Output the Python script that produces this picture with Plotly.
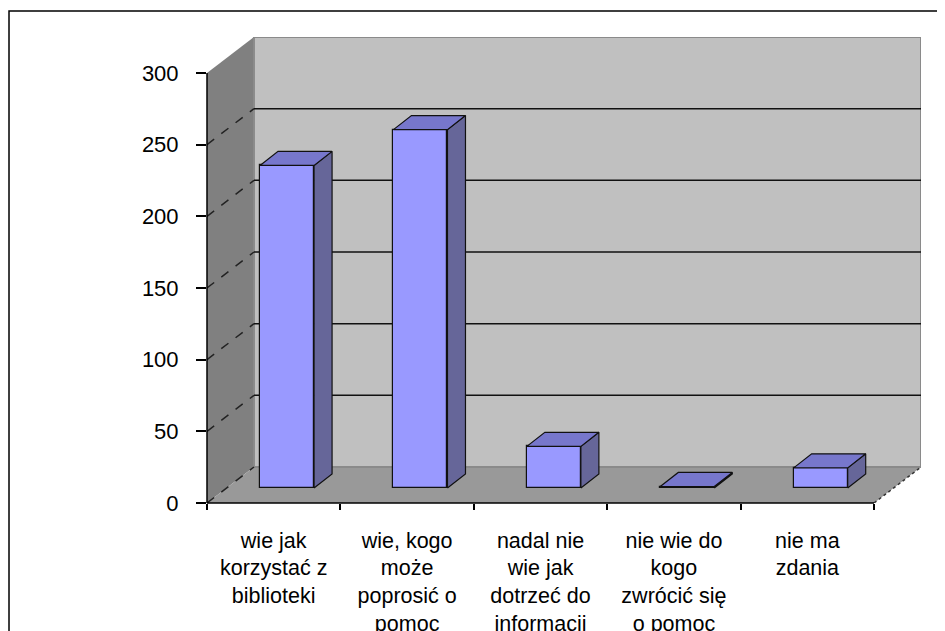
import plotly.graph_objects as go

# ---- data ----
categories = [
    "wie jak<br>korzystać z<br>biblioteki",
    "wie, kogo<br>może<br>poprosić o<br>pomoc",
    "nadal nie<br>wie jak<br>dotrzeć do<br>informacji",
    "nie wie do<br>kogo<br>zwrócić się<br>o pomoc",
    "nie ma<br>zdania",
]
values = [225, 250, 29, 1, 14]
y_ticks = [0, 50, 100, 150, 200, 250, 300]

# ---- 3D geometry (in axis units) ----
N = len(categories)
YMAX = 300
DX, DY = 0.352, 25.1          # depth of the box (walls)
BAR_SHIFT_X, BAR_BASE = 0.1, 10.5   # bar front-face position inside the box
BAR_W = 0.405
BDX, BDY = 0.135, 9.8         # bar depth
XR = [0, N + DX]
YR = [0, YMAX + DY]

FRONT = "#9999ff"
SIDE = "#666699"
TOP = "#7777cc"

fig = go.Figure()

shapes = []
# left wall
shapes.append(dict(type="path", xref="x", yref="y", layer="below",
                   path=f"M0,0 L0,{YMAX} L{DX},{YMAX+DY} L{DX},{DY} Z",
                   fillcolor="#808080", line=dict(width=0)))
# floor
shapes.append(dict(type="path", xref="x", yref="y", layer="below",
                   path=f"M0,0 L{N},0 L{N+DX},{DY} L{DX},{DY} Z",
                   fillcolor="#999999", line=dict(width=0)))
# back wall
shapes.append(dict(type="rect", xref="x", yref="y", layer="below",
                   x0=DX, x1=N + DX, y0=DY, y1=YMAX + DY,
                   fillcolor="#c0c0c0", line=dict(color="#8a8a8a", width=2)))
# gridlines
for v in y_ticks:
    if 0 < v < YMAX:
        shapes.append(dict(type="line", xref="x", yref="y", layer="below",
                           x0=DX, x1=N + DX, y0=v + DY, y1=v + DY,
                           line=dict(color="#111111", width=1.5)))
    if v < YMAX:
        shapes.append(dict(type="line", xref="x", yref="y", layer="below",
                           x0=0, x1=DX, y0=v, y1=v + DY,
                           line=dict(color="#222222", width=1.5, dash="dash")))
# right floor edge
shapes.append(dict(type="line", xref="x", yref="y", layer="below",
                   x0=N, x1=N + DX, y0=0, y1=DY,
                   line=dict(color="#333333", width=1.5, dash="dot")))
# axis lines
shapes.append(dict(type="line", xref="paper", yref="y", x0=0, x1=0, y0=0, y1=YMAX,
                   line=dict(color="black", width=1.5)))
shapes.append(dict(type="line", xref="x", yref="paper", x0=0, x1=N, y0=0, y1=0,
                   line=dict(color="black", width=1.5)))
# outer chart border
shapes.append(dict(type="rect", xref="paper", yref="paper",
                   x0=-0.2773, x1=1.3, y0=-0.6, y1=1.0558,
                   line=dict(color="black", width=1.5), fillcolor="rgba(0,0,0,0)"))

# bar front faces
xs = [i + 0.5 + BAR_SHIFT_X for i in range(N)]
fig.add_trace(go.Bar(x=xs, y=values, base=[BAR_BASE] * N, width=BAR_W,
                     marker=dict(color=FRONT, line=dict(color="#111111", width=1.2)),
                     hoverinfo="skip", showlegend=False))

# side and top faces
sx, sy, tx, ty = [], [], [], []
for x, v in zip(xs, values):
    xl, xr = x - BAR_W / 2, x + BAR_W / 2
    b, t = BAR_BASE, BAR_BASE + v
    sx += [xr, xr, xr + BDX, xr + BDX, xr, None]
    sy += [b, t, t + BDY, b + BDY, b, None]
    tx += [xl, xr, xr + BDX, xl + BDX, xl, None]
    ty += [t, t, t + BDY, t + BDY, t, None]
fig.add_trace(go.Scatter(x=sx, y=sy, mode="lines", fill="toself", fillcolor=SIDE,
                         line=dict(color="#111111", width=1.2), hoverinfo="skip",
                         showlegend=False))
fig.add_trace(go.Scatter(x=tx, y=ty, mode="lines", fill="toself", fillcolor=TOP,
                         line=dict(color="#111111", width=1.2), hoverinfo="skip",
                         showlegend=False))

# page body has an 8px margin: figure is sized/offset to compensate
fig.update_layout(
    width=937, height=623,
    margin=dict(l=199, r=24, t=29, b=128),
    paper_bgcolor="white", plot_bgcolor="rgba(0,0,0,0)",
    font=dict(family="Liberation Sans, Arial, sans-serif", size=22, color="black"),
    shapes=shapes,
    bargap=0,
    xaxis=dict(range=XR, showgrid=False, zeroline=False, showline=False, automargin=False,
               tickmode="array", tickvals=[i + 0.5 for i in range(N)], ticktext=categories,
               tickfont=dict(size=21.5),
               ticks="", ticklabelstandoff=22, tickangle=0,
               minor=dict(tickmode="array", tickvals=list(range(N + 1)), ticks="outside",
                          ticklen=6, tickcolor="black", tickwidth=1.5, showgrid=False)),
    yaxis=dict(range=YR, showgrid=False, zeroline=False, showline=False, automargin=False,
               tickmode="array", tickvals=y_ticks, ticks="outside", ticklen=10,
               tickcolor="black", tickwidth=1.5, ticklabelstandoff=13),
)

fig.write_html("out.html")
